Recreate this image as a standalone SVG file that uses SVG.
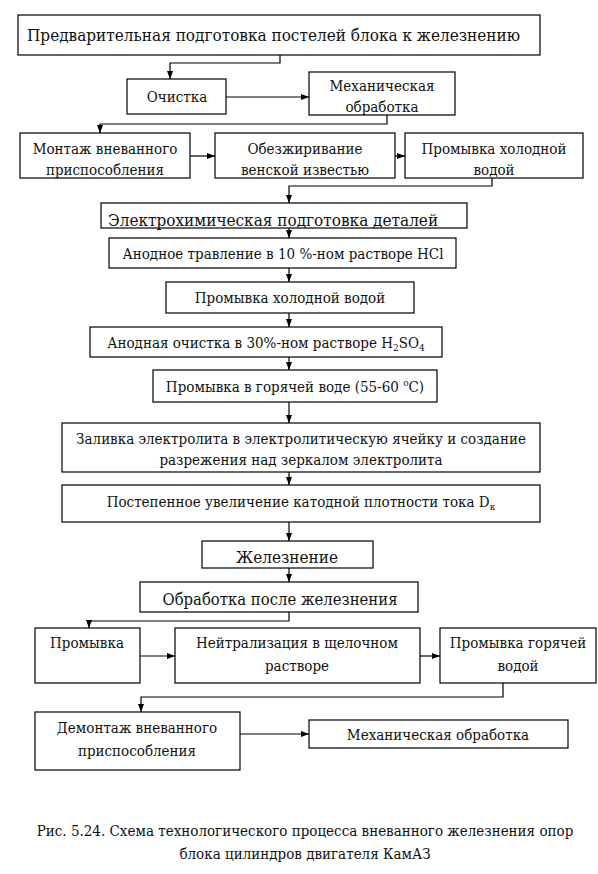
<svg xmlns="http://www.w3.org/2000/svg" width="598" height="874" viewBox="0 0 598 874">
<defs>
<marker id="ah" viewBox="0 0 8 6" refX="8" refY="3" markerWidth="8" markerHeight="6" markerUnits="userSpaceOnUse" orient="auto">
<path d="M0,0 L8,3 L0,6 z" fill="#000"/>
</marker>
<style>
rect{fill:#fff;stroke:#000;stroke-width:1.2}
text{font-family:"DejaVu Serif Condensed","Liberation Serif",serif;fill:#111;font-size:15px;text-anchor:middle}
.big{font-size:17px}
.mid{font-size:16.5px}
.st{text-anchor:start}
.cap{font-size:15px}
#connectors path{fill:none;stroke:#000;stroke-width:1.2;marker-end:url(#ah)}
.sub{font-size:10px}
</style>
</defs>
<rect x="0" y="0" width="598" height="874" style="stroke:none"/>
<g id="connectors">
<path d="M280,55 V63 H170 V79"/>
<path d="M226,97 H309"/>
<path d="M387,115 V124 H100 V133"/>
<path d="M190,156 H215"/>
<path d="M395,156 H405"/>
<path d="M492,178 V186 H289 V203"/>
<path d="M289,228 V238"/>
<path d="M289,268 V282"/>
<path d="M289,313 V327"/>
<path d="M289,357 V370"/>
<path d="M289,402 V423"/>
<path d="M289,472 V485"/>
<path d="M289,522 V541"/>
<path d="M289,555 V582"/>
<path d="M289,612 V621 H89 V628"/>
<path d="M140,656 H175"/>
<path d="M420,656 H440"/>
<path d="M503,683 V697 H141 V712"/>
<path d="M240,734 H309"/>
</g>
<g id="n1"><rect x="18" y="15" width="522" height="40"/><text class="big st" x="27" y="41">Предварительная подготовка постелей блока к железнению</text></g>
<g id="n2"><rect x="127" y="79" width="99" height="35"/><text x="177" y="102">Очистка</text></g>
<g id="n3"><rect x="309" y="72" width="146" height="43"/><text x="382" y="91">Механическая</text><text x="382" y="112">обработка</text></g>
<g id="n4"><rect x="20" y="133" width="170" height="45"/><text x="105" y="154">Монтаж вневанного</text><text x="105" y="175">приспособления</text></g>
<g id="n5"><rect x="215" y="133" width="180" height="45"/><text x="305" y="154">Обезжиривание</text><text x="305" y="175">венской известью</text></g>
<g id="n6"><rect x="405" y="133" width="178" height="45"/><text x="494" y="154">Промывка холодной</text><text x="494" y="175">водой</text></g>
<g id="n7"><rect x="101" y="203" width="366" height="25"/><text class="big st" x="108" y="226">Электрохимическая подготовка деталей</text></g>
<g id="n8"><rect x="109" y="238" width="347" height="30"/><text x="283" y="259">Анодное травление в 10 %-ном растворе HCl</text></g>
<g id="n9"><rect x="166" y="282" width="248" height="31"/><text x="290" y="303">Промывка холодной водой</text></g>
<g id="n10"><rect x="90" y="327" width="352" height="30"/><text x="266" y="348">Анодная очистка в 30%-ном растворе H<tspan class="sub" dy="3">2</tspan><tspan dy="-3">SO</tspan><tspan class="sub" dy="3">4</tspan></text></g>
<g id="n11"><rect x="153" y="370" width="284" height="32"/><text x="295" y="392">Промывка в горячей воде (55-60 <tspan class="sub" dy="-6">o</tspan><tspan dy="6">C)</tspan></text></g>
<g id="n12"><rect x="62" y="423" width="478" height="49"/><text x="301" y="444">Заливка электролита в электролитическую ячейку и создание</text><text x="301" y="465">разрежения над зеркалом электролита</text></g>
<g id="n13"><rect x="62" y="485" width="478" height="37"/><text x="301" y="507">Постепенное увеличение катодной плотности тока D<tspan class="sub" dy="3">к</tspan></text></g>
<g id="n14"><rect x="202" y="541" width="171" height="27"/><text class="big" x="287" y="563">Железнение</text></g>
<g id="n15"><rect x="140" y="582" width="278" height="30"/><text class="mid" x="280" y="605">Обработка после железнения</text></g>
<g id="n16"><rect x="35" y="628" width="105" height="55"/><text x="87" y="648">Промывка</text></g>
<g id="n17"><rect x="175" y="628" width="245" height="55"/><text x="297" y="648">Нейтрализация в щелочном</text><text x="297" y="671">растворе</text></g>
<g id="n18"><rect x="440" y="628" width="156" height="55"/><text x="518" y="648">Промывка горячей</text><text x="518" y="671">водой</text></g>
<g id="n19"><rect x="35" y="712" width="205" height="58"/><text x="137" y="733">Демонтаж вневанного</text><text x="137" y="756">приспособления</text></g>
<g id="n20"><rect x="309" y="720" width="259" height="28"/><text x="438" y="740">Механическая обработка</text></g>
<g id="caption"><text class="cap" x="305" y="836">Рис. 5.24. Схема технологического процесса вневанного железнения опор</text><text class="cap" x="305" y="859">блока цилиндров двигателя КамАЗ</text></g>
</svg>
